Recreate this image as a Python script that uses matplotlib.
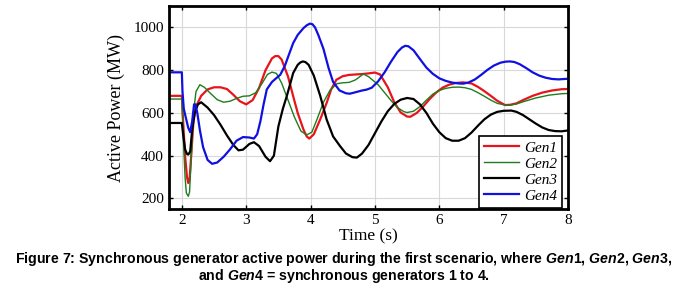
import matplotlib
matplotlib.use("Agg")
import matplotlib.pyplot as plt

# values (time in s, power in MW)
t1 = [1.8, 2.0, 2.02, 2.05, 2.08, 2.1, 2.12, 2.15, 2.18, 2.22, 2.3, 2.4, 2.5, 2.6, 2.7, 2.8, 2.9, 3.0,
      3.1, 3.2, 3.3, 3.4, 3.45, 3.5, 3.55, 3.65, 3.73, 3.8, 3.89, 3.94, 3.98, 4.05, 4.15, 4.25, 4.32, 4.4,
      4.5, 4.6, 4.7, 4.8, 4.9, 5.0, 5.08, 5.2, 5.3, 5.4, 5.5, 5.55, 5.65, 5.75, 5.85, 5.95, 6.05, 6.15,
      6.25, 6.37, 6.5, 6.6, 6.7, 6.8, 6.9, 7.02, 7.1, 7.2, 7.3, 7.45, 7.6, 7.75, 7.9, 8.0]
gen1 = [680, 680, 560, 400, 300, 272, 290, 420, 560, 630, 680, 710, 720, 720, 712, 685, 655, 640,
        660, 717, 800, 855, 866, 866, 850, 770, 678, 600, 522, 490, 480, 500, 570, 647, 710, 755,
        772, 778, 780, 782, 785, 789, 780, 720, 650, 602, 583, 582, 600, 630, 665, 695, 718, 732,
        740, 743, 738, 722, 702, 680, 657, 637, 638, 645, 660, 680, 695, 705, 711, 712]

t2 = [1.8, 2.0, 2.02, 2.05, 2.07, 2.1, 2.12, 2.15, 2.18, 2.22, 2.28, 2.35, 2.45, 2.55, 2.65, 2.75, 2.85,
      2.95, 3.05, 3.15, 3.25, 3.33, 3.4, 3.47, 3.55, 3.65, 3.75, 3.85, 3.94, 4.02, 4.1, 4.2, 4.3, 4.41,
      4.5, 4.6, 4.7, 4.82, 4.9, 5.05, 5.15, 5.25, 5.35, 5.45, 5.5, 5.6, 5.7, 5.8, 5.9, 6.0, 6.1, 6.2,
      6.3, 6.4, 6.5, 6.6, 6.7, 6.8, 6.9, 7.02, 7.1, 7.2, 7.3, 7.5, 7.7, 7.9, 8.0]
gen2 = [665, 665, 500, 300, 225, 210, 230, 420, 600, 700, 732, 720, 690, 662, 650, 655, 668,
        678, 680, 695, 740, 780, 791, 785, 740, 660, 580, 515, 497, 510, 570, 650, 705, 737,
        741, 743, 755, 782, 770, 732, 695, 658, 625, 606, 602, 608, 630, 660, 688, 705, 715, 720,
        721, 718, 710, 695, 678, 660, 645, 637, 637, 642, 652, 670, 683, 690, 691]

t3 = [1.8, 2.0, 2.02, 2.05, 2.08, 2.1, 2.13, 2.16, 2.2, 2.25, 2.3, 2.4, 2.5, 2.6, 2.7, 2.8, 2.88,
      2.95, 3.05, 3.12, 3.2, 3.3, 3.37, 3.43, 3.5, 3.57, 3.63, 3.73, 3.8, 3.84, 3.88, 3.92, 3.97, 4.05,
      4.15, 4.25, 4.35, 4.46, 4.55, 4.65, 4.72, 4.8, 4.9, 5.0, 5.1, 5.2, 5.3, 5.4, 5.5, 5.6, 5.7, 5.8,
      5.9, 6.0, 6.1, 6.2, 6.3, 6.4, 6.5, 6.6, 6.7, 6.8, 6.9, 7.0, 7.12, 7.2, 7.3, 7.4, 7.5, 7.6, 7.7,
      7.8, 7.9, 8.0]
gen3 = [553, 553, 500, 430, 408, 405, 420, 520, 600, 640, 650, 625, 590, 545, 495, 450, 425,
        428, 455, 463, 445, 395, 374, 400, 537, 620, 678, 787, 825, 836, 841, 838, 825, 775,
        680, 569, 490, 444, 410, 393, 391, 410, 450, 505, 560, 608, 642, 662, 670, 665, 640, 600,
        550, 510, 482, 470, 470, 482, 508, 540, 570, 592, 605, 610, 611, 605, 590, 570, 550, 532, 520,
        515, 514, 518]

t4 = [1.8, 2.0, 2.01, 2.03, 2.06, 2.1, 2.13, 2.16, 2.19, 2.21, 2.24, 2.28, 2.33, 2.4, 2.47, 2.55, 2.65,
      2.75, 2.85, 2.95, 3.05, 3.12, 3.17, 3.22, 3.27, 3.32, 3.4, 3.53, 3.6, 3.66, 3.73, 3.8, 3.89, 3.94,
      3.99, 4.03, 4.07, 4.12, 4.2, 4.28, 4.35, 4.45, 4.55, 4.61, 4.7, 4.8, 4.87, 4.95, 5.05, 5.15, 5.25,
      5.35, 5.42, 5.47, 5.52, 5.6, 5.7, 5.8, 5.9, 6.0, 6.1, 6.2, 6.3, 6.37, 6.45, 6.55, 6.65, 6.75, 6.85,
      6.95, 7.03, 7.1, 7.17, 7.25, 7.35, 7.45, 7.55, 7.65, 7.75, 7.85, 8.0]
gen4 = [790, 790, 700, 620, 580, 530, 510, 560, 640, 640, 600, 520, 440, 380, 362, 368, 395,
        430, 470, 487, 485, 480, 500, 560, 640, 710, 745, 779, 820, 870, 927, 965, 997, 1010,
        1018, 1015, 1000, 965, 900, 810, 745, 705, 692, 690, 697, 705, 709, 718, 748, 790, 840,
        885, 906, 914, 912, 893, 852, 812, 783, 762, 750, 742, 738, 737, 742, 756, 778, 802, 822,
        835, 840, 841, 838, 828, 810, 790, 775, 765, 759, 757, 760]

xticks = [2, 3, 4, 5, 6, 7, 8]
yticks = [200, 400, 600, 800, 1000]

plt.rcParams['font.family'] = 'Liberation Serif'
plt.rcParams['mathtext.fontset'] = 'custom'
plt.rcParams['mathtext.it'] = 'Liberation Sans:italic:bold'
plt.rcParams['mathtext.rm'] = 'Liberation Sans:bold'

fig = plt.figure(figsize=(6.88, 2.9), dpi=100)
ax = fig.add_axes([0.2456, 0.279, 0.58, 0.7])

ax.plot(t1, gen1, color='#e8141c', lw=1.6, label='Gen1')
ax.plot(t2, gen2, color='#1e7d1e', lw=1.0, label='Gen2')
ax.plot(t3, gen3, color='black', lw=1.6, label='Gen3')
ax.plot(t4, gen4, color='#1010e0', lw=1.6, label='Gen4')

ax.set_xlim(1.8, 8)
ax.set_ylim(150, 1100)
ax.set_xticks(xticks)
ax.set_yticks(yticks)
ax.grid(color='#d8d8d8', lw=0.8)
ax.tick_params(direction='in', top=True, right=True, labelsize=11, length=3, width=1)
for s in ax.spines.values():
    s.set_linewidth(2)

ax.set_xlabel('Time (s)', fontsize=12.5, labelpad=1)
ax.set_ylabel('Active Power (MW)', fontsize=13, labelpad=6)

leg = ax.legend(loc='lower right', bbox_to_anchor=(0.985, 0.005), borderaxespad=0,
                prop={'style': 'italic', 'size': 11}, fancybox=False,
                edgecolor='black', framealpha=1, handlelength=2.3, handletextpad=0.3,
                borderpad=0.35, labelspacing=0.15)
leg.get_frame().set_linewidth(1.2)

fig.text(0.5, 1 - 258.5 / 290, 'Figure 7: Synchronous generator active power during the first scenario, where $\\it{Gen1}$, $\\it{Gen2}$, $\\it{Gen3}$,',
         ha='center', va='center', fontsize=10.2, fontweight='bold', family='Liberation Sans')
fig.text(0.5, 1 - 276 / 290, 'and $\\it{Gen4}$ = synchronous generators 1 to 4.',
         ha='center', va='center', fontsize=10.2, fontweight='bold', family='Liberation Sans')

fig.savefig('out.png', dpi=100)
